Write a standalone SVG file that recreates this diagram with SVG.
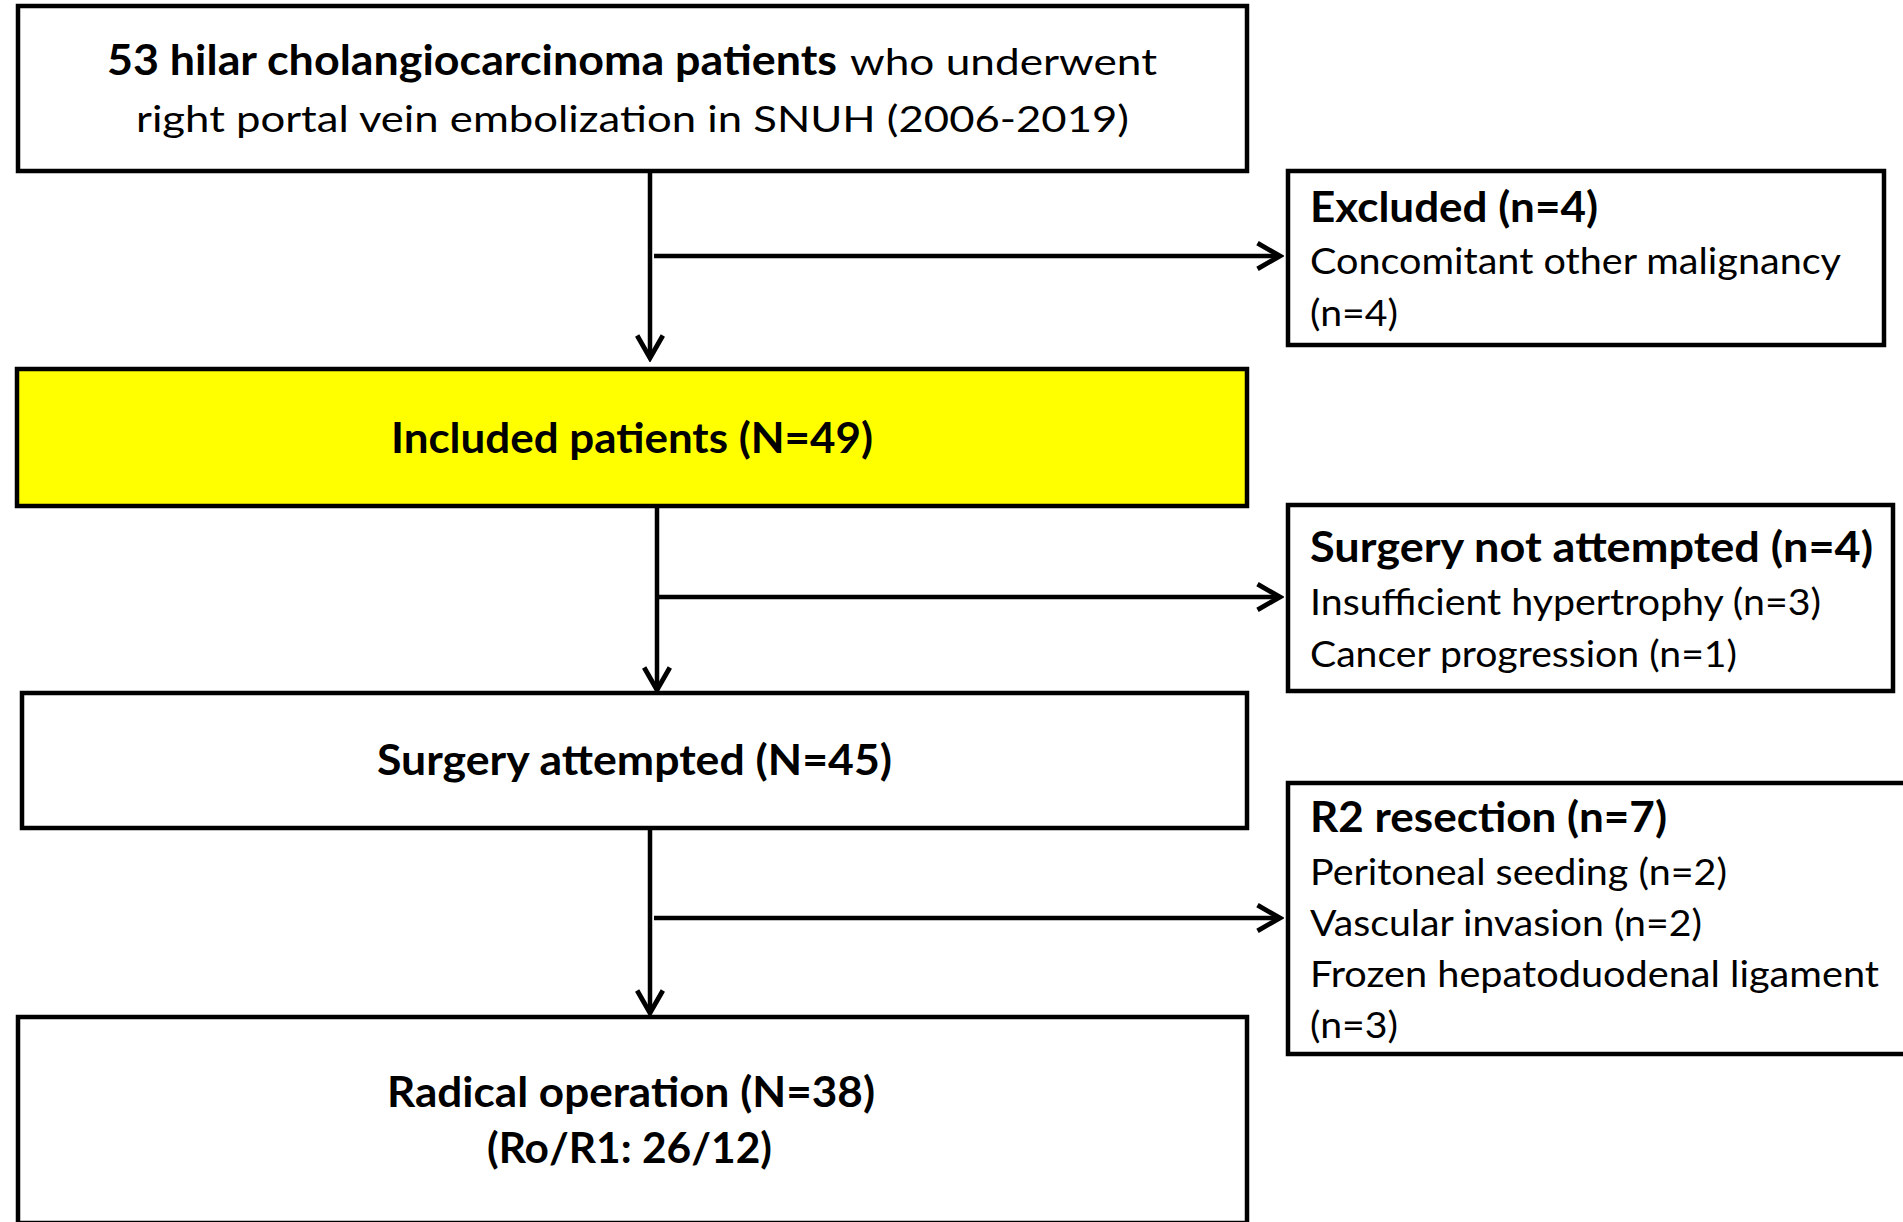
<svg xmlns="http://www.w3.org/2000/svg" width="1903" height="1222" viewBox="0 0 1903 1222">
<style>
.box{fill:#ffffff;stroke:#000000;stroke-width:4.5}
.yel{fill:#ffff00}
.b{font-family:Lato,"Open Sans","Liberation Sans",sans-serif;font-weight:bold;font-size:42px;fill:#000}
.r{font-family:Lato,"Open Sans","Liberation Sans",sans-serif;font-weight:normal;font-size:37px;fill:#000}
.c{stroke:#000;stroke-width:4.5;fill:none}
</style>
<defs>
<marker id="ah" markerUnits="userSpaceOnUse" markerWidth="30" markerHeight="30" viewBox="-24 -14 28 28" refX="0" refY="0" orient="auto">
<path d="M-21,-12 L0,0 L-21,12" fill="none" stroke="#000" stroke-width="4.5" stroke-linejoin="miter"/>
</marker>
</defs>
<rect width="1903" height="1222" fill="#ffffff"/>
<g id="n1">
<rect class="box" x="18" y="6" width="1229" height="165"/>
<text class="b" x="107" y="75" textLength="730" lengthAdjust="spacingAndGlyphs">53 hilar cholangiocarcinoma patients</text>
<text class="r" x="850" y="75" textLength="307" lengthAdjust="spacingAndGlyphs">who underwent</text>
<text class="r" x="136" y="132" textLength="993" lengthAdjust="spacingAndGlyphs">right portal vein embolization in SNUH (2006-2019)</text>
</g>
<g id="excluded">
<rect class="box" x="1288" y="171" width="596" height="174"/>
<text class="b" x="1310" y="222" textLength="288" lengthAdjust="spacingAndGlyphs">Excluded (n=4)</text>
<text class="r" x="1310" y="274" textLength="531" lengthAdjust="spacingAndGlyphs">Concomitant other malignancy</text>
<text class="r" x="1310" y="326" textLength="88" lengthAdjust="spacingAndGlyphs">(n=4)</text>
</g>
<g id="included">
<rect class="box yel" x="17" y="369" width="1230" height="137"/>
<text class="b" x="391" y="453" textLength="482" lengthAdjust="spacingAndGlyphs">Included patients (N=49)</text>
</g>
<g id="not-attempted">
<rect class="box" x="1288" y="505" width="605" height="186"/>
<text class="b" x="1310" y="562" textLength="563" lengthAdjust="spacingAndGlyphs">Surgery not attempted (n=4)</text>
<text class="r" x="1310" y="615" textLength="511" lengthAdjust="spacingAndGlyphs">Insufficient hypertrophy (n=3)</text>
<text class="r" x="1310" y="667" textLength="427" lengthAdjust="spacingAndGlyphs">Cancer progression (n=1)</text>
</g>
<g id="attempted">
<rect class="box" x="22" y="693" width="1225" height="135"/>
<text class="b" x="377" y="775" textLength="515" lengthAdjust="spacingAndGlyphs">Surgery attempted (N=45)</text>
</g>
<g id="r2">
<rect class="box" x="1288" y="783" width="640" height="271"/>
<text class="b" x="1310" y="832" textLength="357" lengthAdjust="spacingAndGlyphs">R2 resection (n=7)</text>
<text class="r" x="1310" y="885" textLength="417" lengthAdjust="spacingAndGlyphs">Peritoneal seeding (n=2)</text>
<text class="r" x="1310" y="936" textLength="392" lengthAdjust="spacingAndGlyphs">Vascular invasion (n=2)</text>
<text class="r" x="1310" y="987" textLength="569" lengthAdjust="spacingAndGlyphs">Frozen hepatoduodenal ligament</text>
<text class="r" x="1310" y="1038" textLength="88" lengthAdjust="spacingAndGlyphs">(n=3)</text>
</g>
<g id="radical">
<rect class="box" x="18" y="1017" width="1229" height="206"/>
<text class="b" x="387" y="1107" textLength="488" lengthAdjust="spacingAndGlyphs">Radical operation (N=38)</text>
<text class="b" x="487" y="1163" textLength="285" lengthAdjust="spacingAndGlyphs">(Ro/R1: 26/12)</text>
</g>
<g id="connectors">
<line class="c" x1="650" y1="171" x2="650" y2="358" marker-end="url(#ah)"/>
<line class="c" x1="654" y1="256" x2="1280" y2="256" marker-end="url(#ah)"/>
<line class="c" x1="657" y1="506" x2="657" y2="690" marker-end="url(#ah)"/>
<line class="c" x1="657" y1="597" x2="1280" y2="597" marker-end="url(#ah)"/>
<line class="c" x1="650" y1="828" x2="650" y2="1013" marker-end="url(#ah)"/>
<line class="c" x1="654" y1="918" x2="1280" y2="918" marker-end="url(#ah)"/>
</g>
</svg>
